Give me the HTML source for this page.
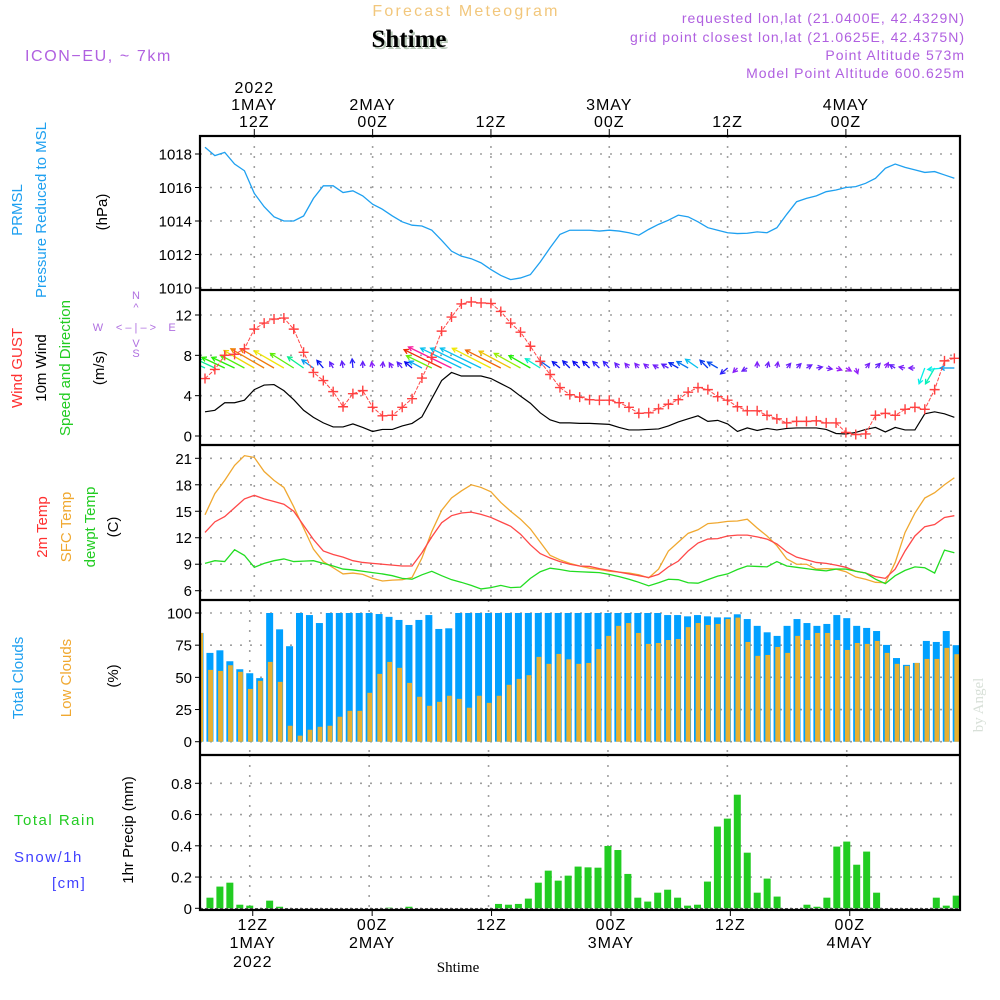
<!DOCTYPE html>
<html><head><meta charset="utf-8"><style>
html,body{margin:0;padding:0;background:#fff;}
svg{display:block;font-family:"Liberation Sans",sans-serif;}
</style></head><body>
<svg id="chart" width="1000" height="1000" viewBox="0 0 1000 1000" xmlns="http://www.w3.org/2000/svg">
<rect x="0" y="0" width="1000" height="1000" fill="#fff"/>
<text x="466" y="16" text-anchor="middle" font-size="16" letter-spacing="2.2" fill="#f2c77c">Forecast Meteogram</text>
<text x="411" y="49" text-anchor="middle" font-size="25" font-weight="bold" font-family="Liberation Serif,serif" fill="#b8c8b8">Shtime</text>
<text x="409" y="47" text-anchor="middle" font-size="25" font-weight="bold" font-family="Liberation Serif,serif" fill="#000">Shtime</text>
<text x="25" y="61" font-size="16" letter-spacing="1.6" fill="#b060e0">ICON−EU, ~ 7km</text>
<g font-size="14" letter-spacing="1" fill="#b060e0" text-anchor="end">
<text x="965" y="23">requested lon,lat (21.0400E, 42.4329N)</text>
<text x="965" y="42">grid point closest lon,lat (21.0625E, 42.4375N)</text>
<text x="965" y="60">Point Altitude 573m</text>
<text x="965" y="78">Model Point Altitude 600.625m</text>
</g>
<g id="axes-left" font-size="15">
<text transform="rotate(-90 22 210)" x="22" y="210" text-anchor="middle" fill="#1ea0f0">PRMSL</text>
<text transform="rotate(-90 46 210)" x="46" y="210" text-anchor="middle" fill="#1ea0f0">Pressure Reduced to MSL</text>
<text transform="rotate(-90 107 212)" x="107" y="212" text-anchor="middle" fill="#000">(hPa)</text>
<text transform="rotate(-90 22 368)" x="22" y="368" text-anchor="middle" fill="#ff3030">Wind GUST</text>
<text transform="rotate(-90 46 368)" x="46" y="368" text-anchor="middle" fill="#000">10m Wind</text>
<text transform="rotate(-90 70 368)" x="70" y="368" text-anchor="middle" fill="#22cc22">Speed and Direction</text>
<text transform="rotate(-90 104 368)" x="104" y="368" text-anchor="middle" fill="#000">(m/s)</text>
<g fill="#b070e0" font-size="11" text-anchor="middle">
<text x="136" y="299">N</text><text x="136" y="311">^</text><text x="98" y="331">W</text><text x="172" y="331">E</text>
<text x="136" y="331">&lt; – | – &gt;</text><text x="136" y="347">V</text><text x="136" y="357">S</text>
</g>
<text transform="rotate(-90 47 527)" x="47" y="527" text-anchor="middle" fill="#ff3030">2m Temp</text>
<text transform="rotate(-90 71 527)" x="71" y="527" text-anchor="middle" fill="#f0a830">SFC Temp</text>
<text transform="rotate(-90 95 527)" x="95" y="527" text-anchor="middle" fill="#22cc22">dewpt Temp</text>
<text transform="rotate(-90 118 527)" x="118" y="527" text-anchor="middle" fill="#000">(C)</text>
<text transform="rotate(-90 23 678)" x="23" y="678" text-anchor="middle" fill="#1ea0f0">Total Clouds</text>
<text transform="rotate(-90 71 678)" x="71" y="678" text-anchor="middle" fill="#f0a830">Low Clouds</text>
<text transform="rotate(-90 118 676)" x="118" y="676" text-anchor="middle" fill="#000">(%)</text>
<text x="14" y="825" fill="#22cc22" letter-spacing="1.5">Total   Rain</text>
<text x="14" y="862" fill="#4040ff" letter-spacing="1.5">Snow/1h</text>
<text x="52" y="888" fill="#4040ff" letter-spacing="1.5">[cm]</text>
<text transform="rotate(-90 133 830)" x="133" y="830" text-anchor="middle" fill="#000">1hr Precip (mm)</text>
</g>
<text transform="rotate(-90 983 705)" x="983" y="705" text-anchor="middle" font-size="15" font-family="Liberation Serif,serif" fill="#d8e0d8">by Angel</text>
<text x="458" y="972" text-anchor="middle" font-size="15" font-family="Liberation Serif,serif" fill="#000">Shtime</text>
<g id="plot"></g>
</svg>
<script>
// ---- data (hourly from 07Z 1 MAY 2022) ----
const timeLabelsHour = [5, 17, 29, 41, 53, 65];
const timeLabelsTime = ["12Z", "00Z", "12Z", "00Z", "12Z", "00Z"];
const timeLabelsDay = ["1MAY", "2MAY", "", "3MAY", "", "4MAY"];
const timeLabelsYear = ["2022", "", "", "", "", ""];
const pressure = [1018.4,1017.9,1018.1,1017.4,1017.0,1015.65,1014.85,1014.25,1014.0,1014.0,1014.3,1015.35,1016.1,1016.1,1015.7,1015.8,1015.5,1015.0,1014.7,1014.3,1013.95,1013.75,1013.7,1013.45,1012.85,1012.2,1011.9,1011.75,1011.5,1011.1,1010.75,1010.5,1010.6,1010.8,1011.55,1012.4,1013.2,1013.45,1013.45,1013.45,1013.4,1013.45,1013.4,1013.3,1013.15,1013.5,1013.8,1014.05,1014.35,1014.25,1013.95,1013.6,1013.45,1013.3,1013.25,1013.27,1013.35,1013.3,1013.6,1014.4,1015.15,1015.35,1015.5,1015.75,1015.85,1016.0,1016.05,1016.25,1016.55,1017.15,1017.4,1017.2,1017.05,1016.9,1016.95,1016.75,1016.55];
const pressureTicks = [1010,1012,1014,1016,1018];
const gust = [5.7,6.6,8.0,8.1,8.65,10.6,11.2,11.6,11.7,10.6,8.3,6.3,5.5,4.4,2.9,4.2,4.5,2.85,2.0,2.05,2.85,3.7,5.75,7.8,10.4,11.8,13.1,13.3,13.2,13.15,12.35,11.2,10.3,8.9,7.4,6.1,4.8,4.1,3.85,3.6,3.55,3.55,3.3,2.85,2.25,2.3,2.7,3.15,3.6,4.35,4.8,4.6,3.9,3.55,2.9,2.5,2.5,2.05,1.7,1.3,1.45,1.45,1.5,1.3,1.3,0.35,0.15,0.2,2.05,2.25,2.05,2.65,2.85,2.65,4.6,7.45,7.7];
const wind10m = [2.4,2.55,3.3,3.3,3.55,4.6,5.05,5.1,4.5,3.6,2.55,1.85,1.3,0.9,0.9,1.2,0.85,0.45,0.65,0.65,1.0,1.25,1.9,3.7,5.5,6.3,5.95,5.95,5.95,5.7,5.2,4.7,3.95,3.25,2.3,1.6,1.3,1.3,1.25,1.25,1.2,1.15,0.85,0.6,0.6,0.65,0.7,1.0,1.4,1.7,2.0,1.45,1.55,1.2,0.45,0.8,0.55,0.75,0.6,0.75,0.8,0.8,0.8,0.65,0.25,0.2,0.35,0.65,0.85,0.4,0.85,0.6,0.6,2.2,2.4,2.2,1.85];
const windDirTo = [295,295,295,295,298,300,300,300,300,302,305,305,320,330,350,355,0,350,5,330,320,310,298,296,296,296,296,296,296,297,297,298,299,300,302,305,310,315,315,315,315,318,320,320,320,310,300,300,300,300,305,315,300,230,225,240,0,15,10,40,45,60,80,100,110,120,160,40,45,30,300,280,270,200,210,265,270];
const windTicks = [0,4,8,12];
const temp2m = [12.6,13.8,14.4,15.4,16.4,16.8,16.4,16.1,15.8,15.0,13.4,11.8,10.5,10.1,9.8,9.4,9.2,9.1,9.0,8.9,8.8,8.8,10.3,12.1,13.7,14.5,14.8,14.9,14.65,14.3,13.8,13.3,12.4,11.2,10.2,9.7,9.3,9.0,8.8,8.75,8.5,8.3,8.1,7.9,7.7,7.5,7.85,8.7,9.35,10.5,11.4,11.85,11.9,12.2,12.3,12.3,12.1,11.85,11.3,10.4,9.8,9.5,9.2,9.1,8.9,8.65,8.2,8.0,7.6,7.4,8.45,10.5,12.2,13.25,13.5,14.3,14.5];
const tempSfc = [14.6,17.0,18.5,20.2,21.3,21.1,19.5,18.5,17.7,15.5,13.1,10.7,9.3,8.6,7.9,8.0,7.85,7.4,7.1,7.2,7.25,7.5,9.7,12.7,15.1,16.5,17.3,18.0,17.7,17.2,16.0,15.0,14.1,13.0,11.5,10.0,9.5,9.1,8.8,8.55,8.4,8.2,8.1,8.0,7.8,7.45,8.45,10.5,11.5,12.5,12.9,13.6,13.7,13.85,13.9,14.1,13.1,12.2,11.1,9.6,9.0,9.0,8.45,8.5,8.45,8.15,7.55,7.3,6.95,6.9,9.2,12.6,14.8,16.5,17.1,18.0,18.8];
const dewpt = [9.1,9.4,9.3,10.65,10.0,8.65,9.1,9.4,9.6,9.3,9.35,9.4,9.1,8.8,8.45,8.35,8.2,8.05,7.9,7.7,7.4,7.3,7.8,8.2,7.7,7.25,6.95,6.6,6.2,6.35,6.6,6.35,6.4,7.4,8.15,8.55,8.4,8.2,8.15,8.1,8.05,7.85,7.6,7.3,6.95,6.55,6.9,7.3,7.25,6.9,6.85,7.25,7.65,7.9,8.4,8.8,8.75,8.7,9.3,8.8,8.65,8.5,8.35,8.25,8.45,8.45,8.2,8.0,7.3,6.8,7.7,8.3,8.7,8.6,8.0,10.6,10.3];
const tempTicks = [6,9,12,15,18,21];
const totalClouds = [84.5,69,71,62.5,56.3,53.2,49.4,100,87.3,74.2,100,98.4,92.2,100,100,100,100,100,99.2,97,94.6,90.7,94.6,98.4,87.6,88.1,100,100,100,100,100,100,100,100,100,100,100,100,100,100,100,100,100,100,100,100,100,98.4,98.4,97.4,98.4,97.4,96.6,96.6,99,95.3,90,85,82.2,90,95.3,92.2,90,91.5,98.4,96,90,88.4,86,75.2,65,59.7,61.2,78.3,77.5,86,75];
const lowClouds = [84.5,55.8,55,59.4,54.3,41,47.3,62,46.5,12.4,4.7,9.3,11.6,12.4,19.4,24,24,38,52.7,62,57.4,45.7,34.9,27.9,31,35.7,33.3,26.4,35.7,30.2,35.7,44.2,48.8,51.7,65.9,60.5,68.2,64,60.5,61.2,72,82.2,90,92.2,84.5,76,76.7,79,79.8,89,92.2,90.7,91.5,95.3,96.4,77.5,66.7,67.4,73.6,69,82.2,79,84.5,84.5,79,71.3,76.7,76,78.3,69,60.5,58.9,61.2,64.3,64.3,72.9,68];
const cloudTicks = [0,25,50,75,100];
const precip = [0,0.068,0.139,0.164,0.023,0.017,0,0.049,0.01,0,0,0,0,0,0,0,0,0,0,0.004,0,0.01,0,0,0,0,0,0,0,0,0.028,0.023,0.028,0.062,0.164,0.241,0.177,0.209,0.267,0.262,0.26,0.399,0.373,0.22,0.068,0.043,0.1,0.119,0.068,0.017,0.023,0.171,0.523,0.574,0.727,0.356,0.1,0.19,0.075,0,0,0.023,0.01,0.068,0.395,0.427,0.279,0.363,0.1,0,0,0,0,0,0.068,0.017,0.081];
const precipTicks = [0,0.2,0.4,0.6,0.8];
const precipTickLabels = ["0","0.2","0.4","0.6","0.8"];

// ---- layout ----
const NS = "http://www.w3.org/2000/svg";
const X0 = 200, X1 = 960;
const plot = document.getElementById('plot');
function mk(tag, attrs, parent) {
  const e = document.createElementNS(NS, tag);
  for (const k in attrs) e.setAttribute(k, attrs[k]);
  (parent || plot).appendChild(e);
  return e;
}
const xL = i => 205 + 9.86 * i;
const xB = i => 200 + 9.95 * i;
function lin(d0, d1, r0, r1) { return v => r0 + (v - d0) * (r1 - r0) / (d1 - d0); }
const yP = lin(1010, 1018, 288, 154);
const yW = lin(0, 12, 436, 315);
const yT = lin(6, 21, 590.7, 458.3);
const yC = lin(0, 100, 741.7, 613);
const yR = lin(0, 0.8, 908.3, 783.3);
const panels = [
  {top:136, bot:290, y:yP, ticks:pressureTicks, labels:pressureTicks.map(String), xg:xL, name:'pressure'},
  {top:290, bot:445, y:yW, ticks:windTicks, labels:windTicks.map(String), xg:xL, name:'wind'},
  {top:445, bot:600, y:yT, ticks:tempTicks, labels:tempTicks.map(String), xg:xL, name:'temperature'},
  {top:600, bot:755, y:yC, ticks:cloudTicks, labels:cloudTicks.map(String), xg:xB, name:'clouds'},
  {top:755, bot:910, y:yR, ticks:precipTicks, labels:precipTickLabels, xg:xB, name:'precip'}
];
const clipDef = mk('defs', {});
const cp = mk('clipPath', {id:'pc'}, clipDef);
mk('rect', {x:X0, y:136, width:X1-X0, height:774}, cp);

// grids and ticks
panels.forEach(p => {
  const g = mk('g', {});
  
  
  p.ticks.forEach((t, k) => {
    const y = p.y(t);
    mk('line', {x1:X0, x2:X1, y1:y, y2:y, stroke:'#a0a0a0', 'stroke-width':1.6, 'stroke-dasharray':'2,8'}, g);
    mk('line', {x1:X0-5, x2:X0, y1:y, y2:y, stroke:'#000', 'stroke-width':1}, g);
    const tl = mk('text', {x:X0-8, y:y+5.5, 'text-anchor':'end', 'font-size':15, fill:'#000'}, g);
    
    
    tl.textContent = p.labels[k];
  });
  timeLabelsHour.forEach(h => {
    const x = p.xg(h);
    mk('line', {x1:x, x2:x, y1:p.top, y2:p.bot, stroke:'#a0a0a0', 'stroke-width':1.6, 'stroke-dasharray':'2,8'}, g);
  });
});

// pressure line
mk('polyline', {points: pressure.map((v,i)=>xL(i)+','+yP(v)).join(' '), fill:'none', stroke:'#1ea0f0', 'stroke-width':1.3, 'clip-path':'url(#pc)'});

// wind 10m line
const w10 = mk('polyline', {points: wind10m.map((v,i)=>xL(i)+','+yW(v)).join(' '), fill:'none', stroke:'#000', 'stroke-width':1.2});



// wind arrows
const hueStops = [[0,280],[1,255],[1.5,225],[2,192],[3,125],[4,80],[5,35],[5.6,5],[6.2,325]];
function hueFor(s) {
  if (s <= hueStops[0][0]) return hueStops[0][1];
  for (let k=1;k<hueStops.length;k++) {
    if (s <= hueStops[k][0]) { const a=hueStops[k-1], b=hueStops[k]; return a[1]+(s-a[0])*(b[1]-a[1])/(b[0]-a[0]); }
  }
  return hueStops[hueStops.length-1][1];
}
const arrowG = mk('g', {'clip-path':'url(#pc)'});


const baseY = 368;
windDirTo.forEach((d, i) => {
  const s = wind10m[i];
  const len = Math.max(6, 7.6 * s);
  const a = d * Math.PI / 180;
  const x0 = xL(i), y0 = baseY;
  const x1 = x0 + len * Math.sin(a), y1 = y0 - len * Math.cos(a);
  const col = 'hsl(' + hueFor(s) + ',95%,' + (hueFor(s) > 240 ? 55 : 48) + '%)';
  const ag = mk('g', {stroke: col, 'stroke-width': 1.3, fill:'none'}, arrowG);
  
  
  mk('line', {x1:x0, y1:y0, x2:x1, y2:y1}, ag);
  const h = 5, sp = 0.5;
  const back = a + Math.PI;
  mk('polyline', {points: [
    (x1 + h*Math.sin(back-sp)) + ',' + (y1 - h*Math.cos(back-sp)),
    x1 + ',' + y1,
    (x1 + h*Math.sin(back+sp)) + ',' + (y1 - h*Math.cos(back+sp))
  ].join(' ')}, ag);
});

// gust line + crosses
const gg = mk('g', {});


mk('polyline', {points: gust.map((v,i)=>xL(i)+','+yW(v)).join(' '), fill:'none', stroke:'#ff4848', 'stroke-width':1, 'stroke-dasharray':'4,1.5'}, gg);
gust.forEach((v,i) => {
  const x = xL(i), y = yW(v);
  const m = mk('path', {d:'M'+(x-5)+','+y+'H'+(x+5)+'M'+x+','+(y-5)+'V'+(y+5), stroke:'#ff4040', 'stroke-width':1.4}, gg);
  
  
});

// temperature lines
[[tempSfc,'#f0a830','sfc-temp-line'],[temp2m,'#ff4848','temp-2m-line'],[dewpt,'#22dd22','dewpoint-line']].forEach(s => {
  const l = mk('polyline', {points: s[0].map((v,i)=>xL(i)+','+yT(v)).join(' '), fill:'none', stroke:s[1], 'stroke-width':1.3});
  
  
});

// clouds
const cg = mk('g', {'clip-path':'url(#pc)'});


totalClouds.forEach((v,i) => {
  const x = xB(i), y = yC(v);
  const b = mk('rect', {x:x-3.5, y:y, width:7, height:yC(0)-y, fill:'#00a0ff'}, cg);
  
  
});
lowClouds.forEach((v,i) => {
  const x = xB(i), y = yC(v);
  const b = mk('rect', {x:x-1.8, y:y, width:4.8, height:yC(0)-y, fill:'#e8b030'}, cg);
  
  
});

// precip
const pg = mk('g', {'clip-path':'url(#pc)'});


precip.forEach((v,i) => {
  if (v <= 0) return;
  const x = xB(i), y = yR(v);
  const b = mk('rect', {x:x-3.5, y:y, width:7, height:yR(0)-y, fill:'#22cc22'}, pg);
  
  
});
mk('line', {x1:X0, x2:X1, y1:908.5, y2:908.5, stroke:'#555', 'stroke-width':1, 'stroke-dasharray':'3,2'});

// frame
const fr = mk('g', {fill:'none', stroke:'#000', 'stroke-width':2.2});


mk('rect', {x:X0, y:136, width:X1-X0, height:774}, fr);
[290,445,600,755].forEach(y => mk('line', {x1:X0, x2:X1, y1:y, y2:y}, fr));

// time axis labels top and bottom
timeLabelsHour.forEach((h,k) => {
  const xt = xL(h), xb = xB(h) + 3;
  mk('line', {x1:xt, x2:xt, y1:129, y2:136, stroke:'#000', 'stroke-width':1});
  mk('line', {x1:xb, x2:xb, y1:910, y2:916, stroke:'#000', 'stroke-width':1});
  const rowsTop = [[timeLabelsYear[k], 93], [timeLabelsDay[k], 110], [timeLabelsTime[k], 127]];
  rowsTop.forEach(r => {
    if (!r[0]) return;
    const t = mk('text', {x:xt, y:r[1], 'text-anchor':'middle', 'font-size':16, 'letter-spacing':1, fill:'#000'});
    
    
    t.textContent = r[0];
  });
  const rowsBot = [[timeLabelsTime[k], 930], [timeLabelsDay[k], 948], [timeLabelsYear[k], 967]];
  rowsBot.forEach(r => {
    if (!r[0]) return;
    const t = mk('text', {x:xb, y:r[1], 'text-anchor':'middle', 'font-size':16, 'letter-spacing':1, fill:'#000'});
    
    
    t.textContent = r[0];
  });
});
</script>
</body></html>
